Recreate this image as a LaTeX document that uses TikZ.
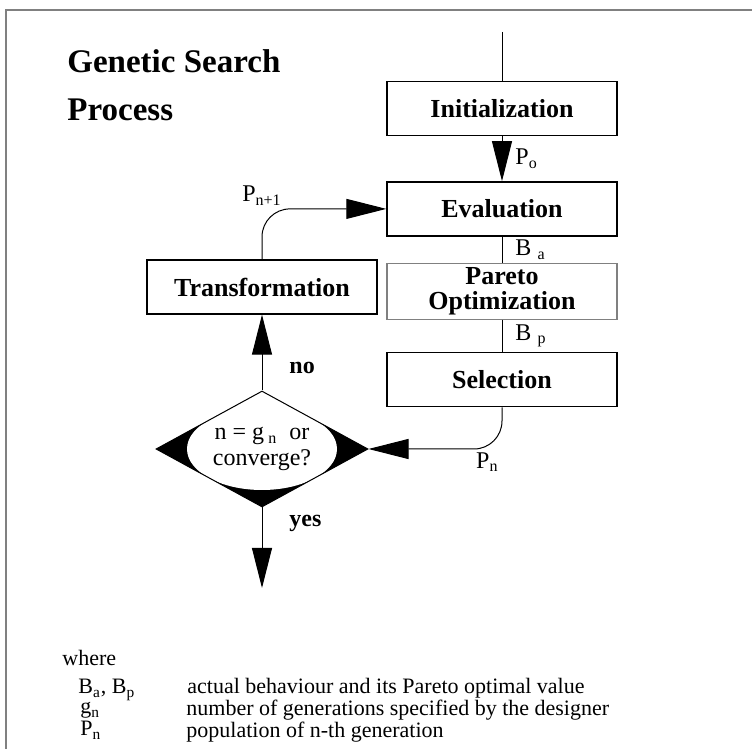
\documentclass[tikz,border=0pt]{standalone}
\usepackage{fontspec}
\setmainfont{Liberation Serif}
\usetikzlibrary{arrows.meta, positioning, shapes.geometric}

\begin{document}
\begin{tikzpicture}[
    x=0.5pt, y=-0.5pt,
    box/.style={rectangle, draw, line width=0.7pt, minimum width=115pt, minimum height=27pt, inner sep=0pt, align=center, font=\fontsize{13}{12.5}\selectfont\bfseries},
    lbl/.style={font=\fontsize{12}{12}\selectfont, inner sep=1.5pt},
    tag/.style={font=\fontsize{12}{12}\selectfont\bfseries, inner sep=1.5pt},
    arrow/.style={-{Triangle[length=20pt, width=10pt]}, line width=0.5pt},
    link/.style={line width=0.5pt},
    note/.style={anchor=base west, inner sep=0pt, font=\fontsize{11}{11}\selectfont}
]
\useasboundingbox (0,0) rectangle (752,749);
\draw[gray, line width=1pt] (6,749) -- (6,10) -- (752,10);

\node[anchor=north west, align=left, inner sep=0pt, font=\fontsize{16.5}{24}\selectfont\bfseries] (title) at (67,49) {Genetic Search\\Process};

\coordinate (start) at (502,32);
\node[box] (init) at (502,108.5) {Initialization};
\node[box, below=22.5pt of init] (eval) {Evaluation};
\node[box, draw=gray, minimum height=28pt, below=13pt of eval] (pareto) {Pareto\\Optimization};
\node[box, below=16pt of pareto] (select) {Selection};
\node[box] (trans) at (262,287) {Transformation};
\node[diamond, draw, line width=0.5pt, aspect=1.83, minimum width=106pt, minimum height=58pt, inner sep=0pt, align=center, font=\fontsize{12}{13}\selectfont,
    path picture={
      \fill[black] (path picture bounding box.south west) rectangle (path picture bounding box.north east);
      \fill[white] (path picture bounding box.center) ellipse [x radius=37.5pt, y radius=20.5pt];
      \fill[white] (path picture bounding box.north) -- ++(-26.5pt,-14.5pt) -- ++(53pt,0pt) -- cycle;
    }] (test) at (262,449) {n = g\,\textsubscript{n}\ \ or\\converge?};
\coordinate (stop) at (262,588);

\draw[link] (start) -- (init);
\draw[arrow] (init) -- node[lbl, right=5pt] {P\textsubscript{o}} (eval);
\draw[link] (eval) -- node[lbl, right=5pt] {B \textsubscript{a}} (pareto);
\draw[link] (pareto) -- node[lbl, right=5pt] {B \textsubscript{p}} (select);
\draw[arrow, rounded corners=14pt] (select.south) |- node[lbl, below left] {P\textsubscript{n}} (test.east);
\draw[arrow] (test.north) -- node[tag, pos=0.3, right=12pt] {no} (trans.south);
\draw[arrow, rounded corners=14pt] (trans.north) |- node[lbl, above] {P\textsubscript{n+1}} (eval.west);
\draw[arrow] (test.south) -- node[tag, pos=0.2, right=12pt] {yes} (stop);

\node[note] (where) at (62,666) {where};
\node[note] (sym1) at (78,694) {B\textsubscript{a}, B\textsubscript{p}};
\node[note] (desc1) at (187,694) {actual behaviour and its Pareto optimal value};
\node[note] (sym2) at (80,714) {g\textsubscript{n}};
\node[note] (desc2) at (186,716) {number of generations specified by the designer};
\node[note] (sym3) at (80,736) {P\textsubscript{n}};
\node[note] (desc3) at (186,738) {population of n-th generation};

\end{tikzpicture}
\end{document}
